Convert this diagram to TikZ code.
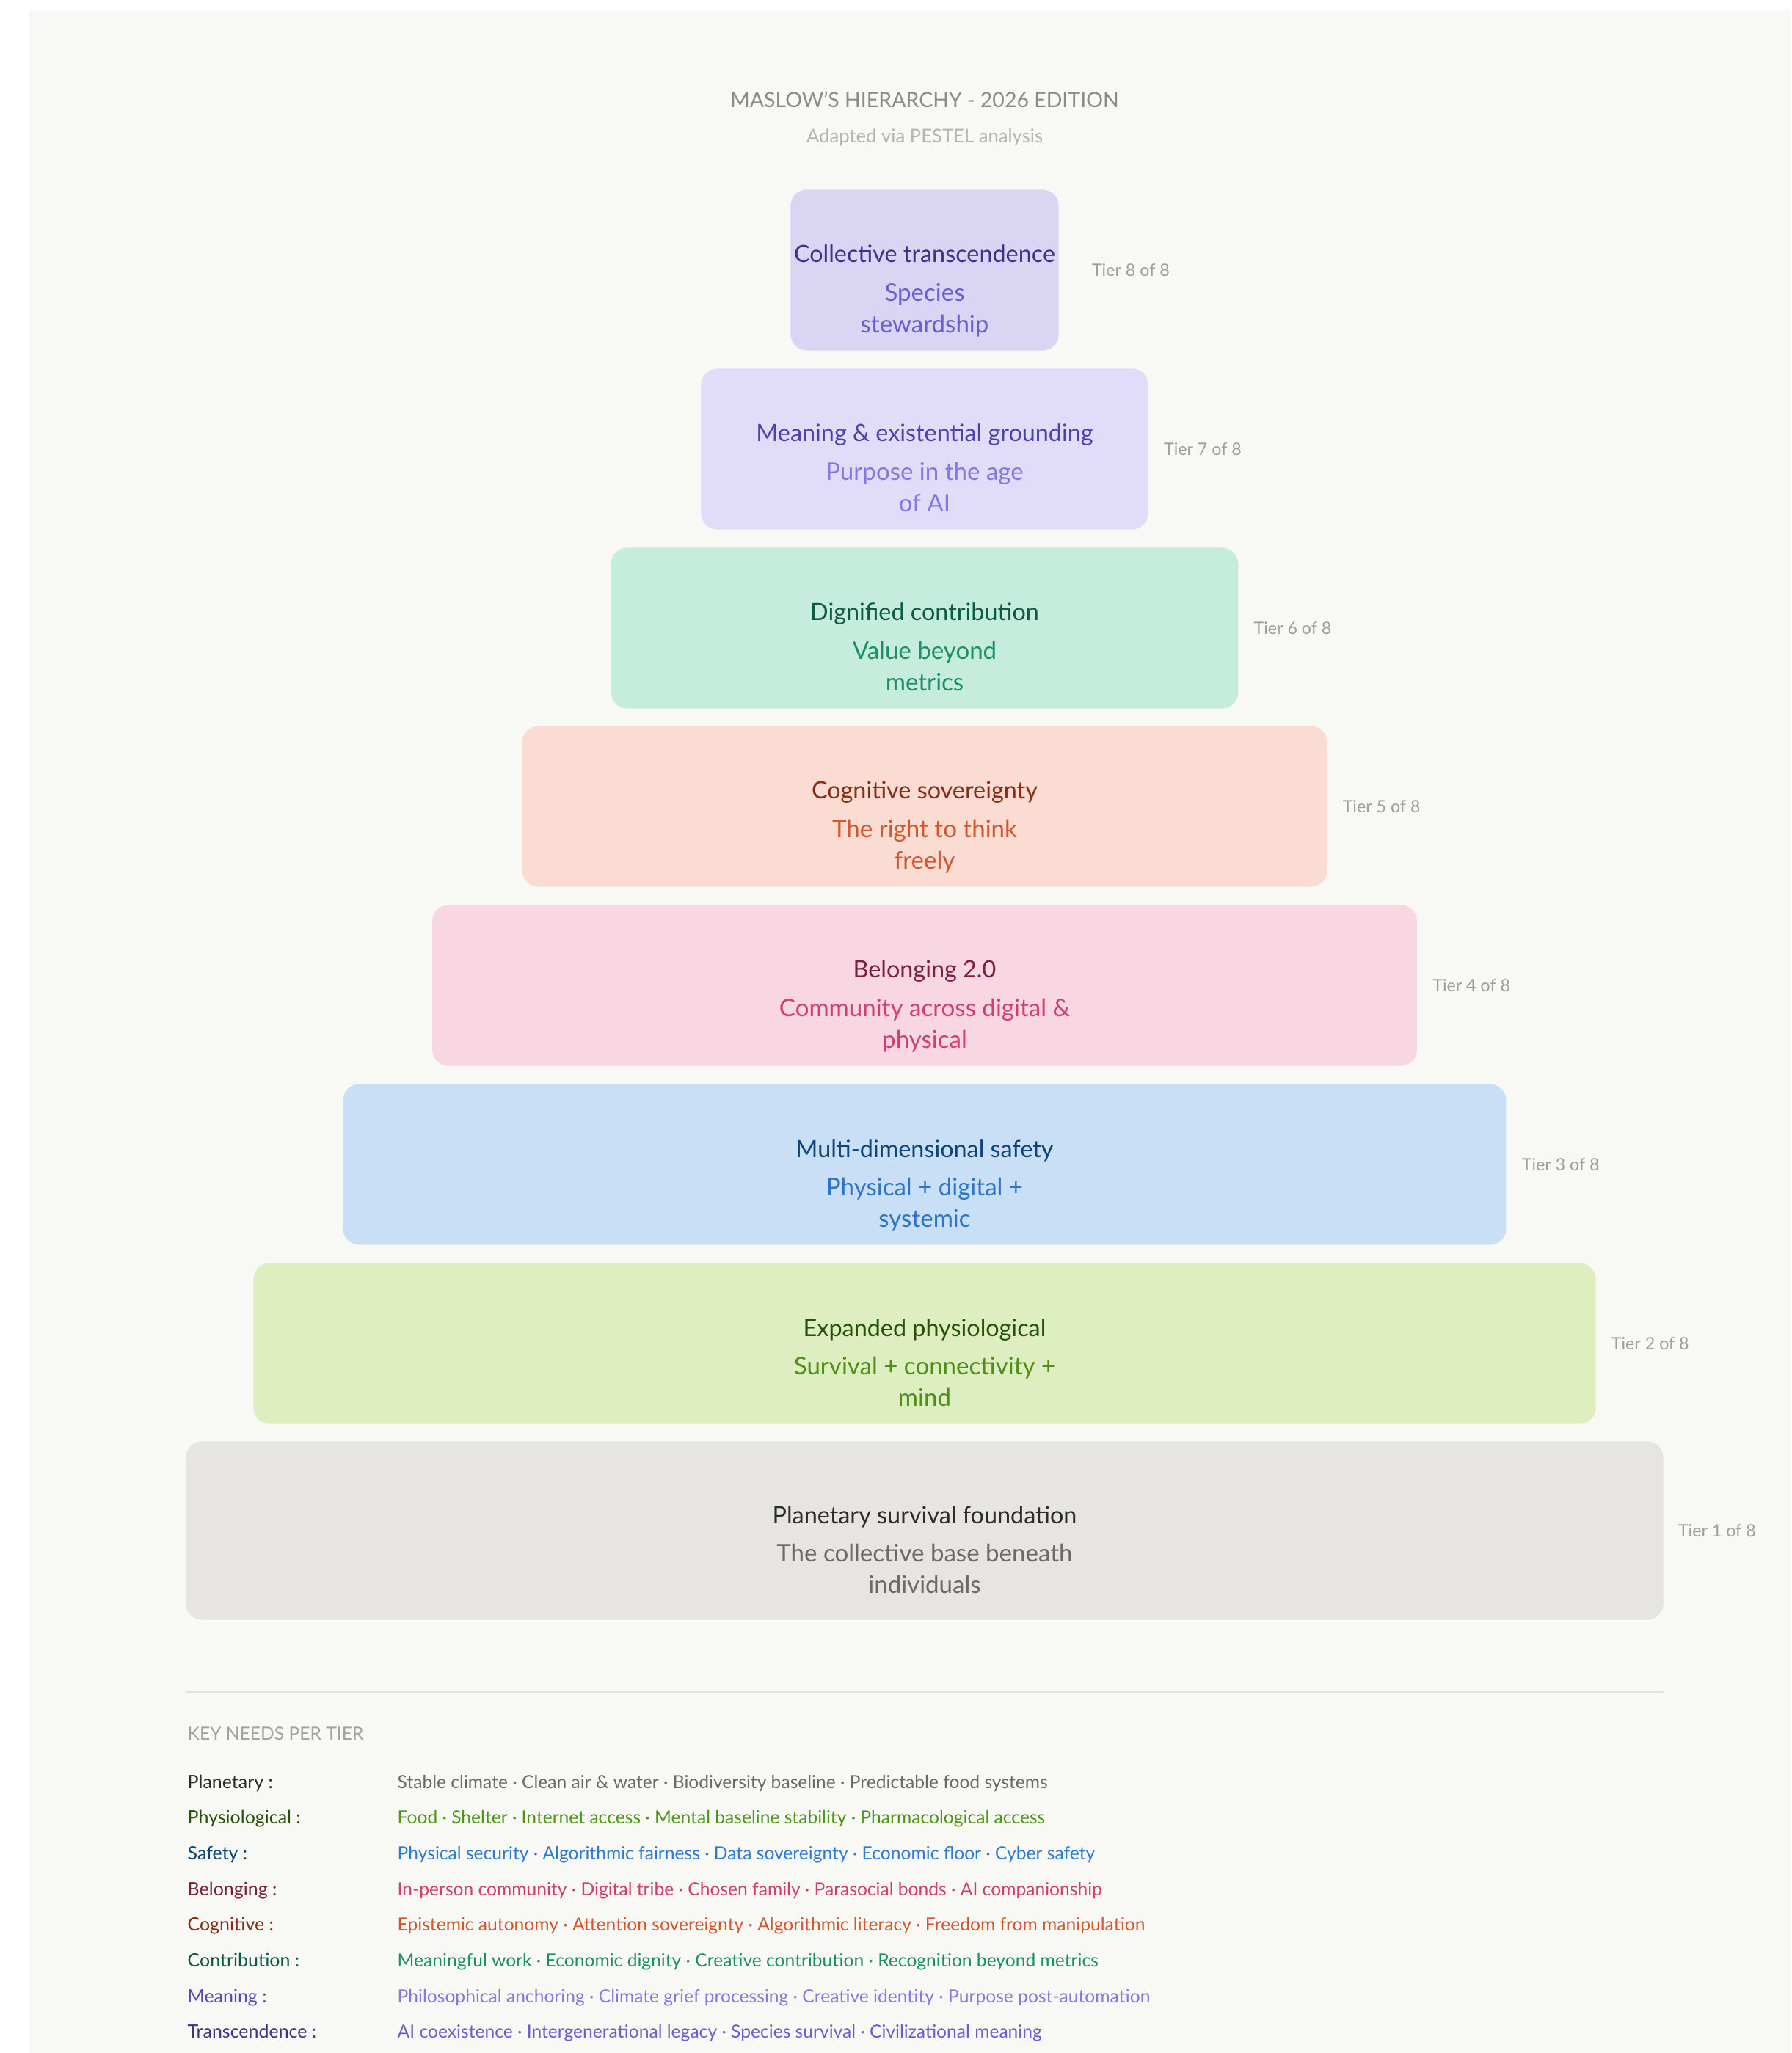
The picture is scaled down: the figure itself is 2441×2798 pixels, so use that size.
\documentclass[tikz,border=0pt]{standalone}
\usepackage{fontspec}
\setmainfont{Lato}
\usetikzlibrary{positioning}

\definecolor{pageback}{HTML}{F8F8F4}
\definecolor{headgray}{HTML}{8C8B85}
\definecolor{subheadgray}{HTML}{B5B4AE}
\definecolor{taggray}{HTML}{A09F99}
\definecolor{rulegray}{HTML}{E4E4DF}
\definecolor{keyhead}{HTML}{A3A29C}

% tier colours: box fill, title, subtitle
\definecolor{fill8}{HTML}{D9D5F2}\definecolor{title8}{HTML}{3C3489}\definecolor{sub8}{HTML}{6A5FD1}
\definecolor{fill7}{HTML}{E1DDF9}\definecolor{title7}{HTML}{4B42AE}\definecolor{sub7}{HTML}{8379E0}
\definecolor{fill6}{HTML}{C6ECDD}\definecolor{title6}{HTML}{0D5B45}\definecolor{sub6}{HTML}{1A9069}
\definecolor{fill5}{HTML}{FADCD3}\definecolor{title5}{HTML}{8A2C14}\definecolor{sub5}{HTML}{D3562C}
\definecolor{fill4}{HTML}{F8D6E2}\definecolor{title4}{HTML}{7A1F3F}\definecolor{sub4}{HTML}{D23F6B}
\definecolor{fill3}{HTML}{C8DFF5}\definecolor{title3}{HTML}{0C447C}\definecolor{sub3}{HTML}{2E74C9}
\definecolor{fill2}{HTML}{DEEEC1}\definecolor{title2}{HTML}{27500A}\definecolor{sub2}{HTML}{4E8F1A}
\definecolor{fill1}{HTML}{E6E5E1}\definecolor{title1}{HTML}{2C2C2A}\definecolor{sub1}{HTML}{6B6A66}

% key colours: label, items
\definecolor{keylabel1}{HTML}{2C2C2A}\definecolor{keyitems1}{HTML}{6B6A66}
\definecolor{keylabel2}{HTML}{27500A}\definecolor{keyitems2}{HTML}{4E961A}
\definecolor{keylabel3}{HTML}{0C447C}\definecolor{keyitems3}{HTML}{2E7BD6}
\definecolor{keylabel4}{HTML}{7A1F3F}\definecolor{keyitems4}{HTML}{D23F6B}
\definecolor{keylabel5}{HTML}{8A2C14}\definecolor{keyitems5}{HTML}{D3562C}
\definecolor{keylabel6}{HTML}{0D5B45}\definecolor{keyitems6}{HTML}{1A9069}
\definecolor{keylabel7}{HTML}{534AB7}\definecolor{keyitems7}{HTML}{8379E0}
\definecolor{keylabel8}{HTML}{3C3489}\definecolor{keyitems8}{HTML}{6A5FD1}

\begin{document}
\begin{tikzpicture}[x=0.01cm, y=-0.01cm, line join=bevel]
    \pgfmathsetmacro{\cx}{1260}

    \tikzset{%
      apply style/.code = {\tikzset{#1}},
      tier_box/.style   = {rectangle, rounded corners=0.22cm, inner sep=0pt},
      tier_title/.style = {anchor=base, inner sep=0pt, font=\fontsize{9.2}{11}\selectfont},
      tier_sub/.style   = {anchor=base, inner sep=0pt, align=center, font=\fontsize{9.4}{12.2}\selectfont},
      tier_tag/.style   = {anchor=west, inner sep=0pt, text=taggray, font=\fontsize{6.6}{8}\selectfont},
      key_label/.style  = {anchor=base west, inner sep=0pt, font=\fontsize{7.0}{8}\selectfont},
      key_rule/.style   = {draw=rulegray, line width=0.9pt}
    }

    % page
    \fill[white] (0,0) rectangle (2441,2798);
    \fill[pageback] (40,14) rectangle (2441,2798);
    \useasboundingbox (0,0) rectangle (2441,2798);

    \node[anchor=base, inner sep=0pt, text=headgray, font=\fontsize{8.1}{10}\selectfont]
      (heading) at (\cx,147) {MASLOW'S HIERARCHY - 2026 EDITION};
    \node[anchor=base, inner sep=0pt, text=subheadgray, font=\fontsize{7.3}{9}\selectfont]
      (subheading) at (\cx,195) {Adapted via PESTEL analysis};

    % the eight tiers, top down
    \foreach \n/\y/\w/\h/\gap/\ttl/\sub in {%
        8/368/3.65/2.19/0.44cm/{Collective transcendence}/{Species\\stewardship},
        7/612/6.09/2.19/0.2cm/{Meaning \& existential grounding}/{Purpose in the age\\of AI},
        6/856/8.54/2.19/0.2cm/{Dignified contribution}/{Value beyond\\metrics},
        5/1099/10.96/2.19/0.2cm/{Cognitive sovereignty}/{The right to think\\freely},
        4/1343/13.41/2.19/0.2cm/{Belonging 2.0}/{Community across digital \&\\physical},
        3/1587/15.84/2.19/0.2cm/{Multi-dimensional safety}/{Physical + digital +\\systemic},
        2/1831/18.28/2.19/0.2cm/{Expanded physiological}/{Survival + connectivity +\\mind},
        1/2086/20.12/2.43/0.19cm/{Planetary survival foundation}/{The collective base beneath\\individuals}%
    }{
      \node[tier_box, fill=fill\n, minimum width=\w cm, minimum height=\h cm] (tier\n) at (\cx,\y) {};
      \node[tier_title, text=title\n] (title\n) at ([yshift=0.1cm]tier\n.center) {\ttl};
      \node[tier_sub, text=sub\n] (sub\n) at ([yshift=-0.85cm]tier\n.center) {\sub};
      \node[tier_tag] (tag\n) at ([xshift=\gap]tier\n.east) {Tier \n{} of 8};
    }

    % key
    \draw[key_rule] ([yshift=-0.98cm]tier1.south west) -- ([yshift=-0.98cm]tier1.south east);
    \node[key_label, text=keyhead] (keyhead) at (255,2371) {KEY NEEDS PER TIER};

    \foreach \k/\lbl/\items in {%
        1/{Planetary :}/{Stable climate · Clean air \& water · Biodiversity baseline · Predictable food systems},
        2/{Physiological :}/{Food · Shelter · Internet access · Mental baseline stability · Pharmacological access},
        3/{Safety :}/{Physical security · Algorithmic fairness · Data sovereignty · Economic floor · Cyber safety},
        4/{Belonging :}/{In-person community · Digital tribe · Chosen family · Parasocial bonds · AI companionship},
        5/{Cognitive :}/{Epistemic autonomy · Attention sovereignty · Algorithmic literacy · Freedom from manipulation},
        6/{Contribution :}/{Meaningful work · Economic dignity · Creative contribution · Recognition beyond metrics},
        7/{Meaning :}/{Philosophical anchoring · Climate grief processing · Creative identity · Purpose post-automation},
        8/{Transcendence :}/{AI coexistence · Intergenerational legacy · Species survival · Civilizational meaning}%
    }{
      \node[key_label, text=keylabel\k, font=\fontsize{7.1}{8}\selectfont] (keylabel\k) at (255,{2437+(\k-1)*48.7}) {\lbl};
      \node[key_label, text=keyitems\k] (keyitems\k) at (541,{2437+(\k-1)*48.7}) {\items};
    }
\end{tikzpicture}
\end{document}
